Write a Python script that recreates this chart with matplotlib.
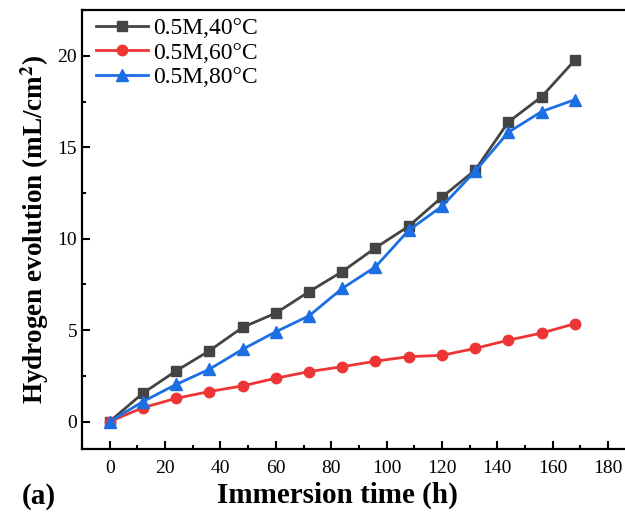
import matplotlib
matplotlib.use("Agg")
import matplotlib.pyplot as plt
from matplotlib.ticker import MultipleLocator

# immersion time (h)
hours = [0, 12, 24, 36, 48, 60, 72, 84, 96, 108, 120, 132, 144, 156, 168]

# hydrogen evolution (mL/cm2)
h2_40 = [0, 1.55, 2.77, 3.87, 5.15, 5.93, 7.1, 8.2, 9.5, 10.68, 12.27, 13.75, 16.38, 17.76, 19.76]
h2_60 = [0, 0.76, 1.27, 1.64, 1.95, 2.37, 2.73, 3.0, 3.3, 3.55, 3.62, 4.0, 4.45, 4.84, 5.35]
h2_80 = [0, 1.09, 2.03, 2.86, 3.95, 4.91, 5.78, 7.28, 8.46, 10.46, 11.77, 13.69, 15.82, 16.95, 17.6]

labels = ["0.5M,40\u00b0C", "0.5M,60\u00b0C", "0.5M,80\u00b0C"]

plt.rcParams["font.family"] = ["Liberation Serif", "DejaVu Serif"]
plt.rcParams["mathtext.fontset"] = "stix"

fig = plt.figure(figsize=(6.25, 5.25), dpi=100)
# axes run a little past the right edge, like the cropped original
ax = fig.add_axes([0.1312, 0.1448, 0.886, 0.836])

ax.plot(hours, h2_40, color="#444444", marker="s", ms=7.5, lw=2, label=labels[0])
ax.plot(hours, h2_60, color="#ee3535", marker="o", ms=7.5, lw=2, label=labels[1])
ax.plot(hours, h2_80, color="#1c6fe3", marker="^", ms=8.5, lw=2, label=labels[2])

ax.set_xlim(-10, 190)
ax.set_ylim(-1.5, 22.5)
ax.xaxis.set_major_locator(MultipleLocator(20))
ax.xaxis.set_minor_locator(MultipleLocator(10))
ax.yaxis.set_major_locator(MultipleLocator(5))
ax.yaxis.set_minor_locator(MultipleLocator(2.5))
ax.tick_params(which="both", direction="in", width=1.5, labelsize=14)
ax.tick_params(which="major", length=6)
ax.tick_params(which="minor", length=3)
ax.tick_params(axis="x", pad=8)
for s in ax.spines.values():
    s.set_linewidth(1.6)
ax.spines["right"].set_visible(False)

ax.set_xlabel("Immersion time (h)", fontsize=21, fontweight="bold")
ax.xaxis.set_label_coords(0.462, -0.075)
ax.set_ylabel("Hydrogen evolution (mL/cm$^\\mathbf{2}$)", fontsize=19.5, fontweight="bold", labelpad=5)

ax.legend(loc="upper left", bbox_to_anchor=(0.0, 1.015), frameon=False, fontsize=17,
          handlelength=2.2, borderaxespad=0.2, labelspacing=0.12, handletextpad=0.2)

fig.text(0.035, 0.04, "(a)", fontsize=21, fontweight="bold")

fig.savefig("out.png", dpi=100)
